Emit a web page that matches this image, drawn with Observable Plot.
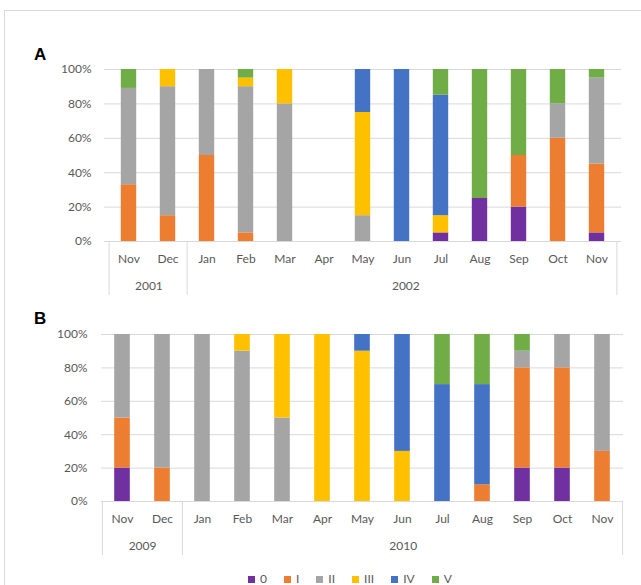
<!DOCTYPE html>
<html><head><meta charset="utf-8">
<script src="https://cdn.jsdelivr.net/npm/d3@7"></script>
<script src="https://cdn.jsdelivr.net/npm/@observablehq/plot@0.6"></script>
<style>
body{margin:0;background:#fff;overflow:hidden}
#wrap{position:relative;width:641px;height:585px;overflow:hidden;background:#fff}
.panel{position:absolute;left:0}
#frame{position:absolute;left:4px;top:10px;width:660px;height:620px;border:1px solid #d9d9d9;box-sizing:border-box;pointer-events:none}
.lab{position:absolute;left:34px;font:bold 17px "Liberation Sans",Arial,sans-serif;line-height:1;color:#000}
#legend{position:absolute;left:248px;top:573px;display:flex;align-items:center;font:12px Lato,"Liberation Sans",sans-serif;color:#595959;line-height:1}
#legend .it{display:flex;align-items:center;margin-right:17px}
#legend .sw{width:7px;height:7px;margin-right:5px}
</style>
</head><body>
<div id="wrap"></div>
<script>
const seriesNames = ["0", "I", "II", "III", "IV", "V"];
const colors = ["#7030A0", "#ED7D31", "#A5A5A5", "#FFC000", "#4472C4", "#70AD47"];

// Panel A categories (month + year)
const catsA = ["Nov 2001","Dec 2001","Jan 2002","Feb 2002","Mar 2002","Apr 2002","May 2002","Jun 2002","Jul 2002","Aug 2002","Sep 2002","Oct 2002","Nov 2002"];
// Panel A values (%)
const a0   = [0, 0, 0, 0, 0, 0, 0, 0, 5, 25, 20, 0, 5];
const aI   = [33, 15, 50, 5, 0, 0, 0, 0, 0, 0, 30, 60, 40];
const aII  = [56, 75, 50, 85, 80, 0, 15, 0, 0, 0, 0, 20, 50];
const aIII = [0, 10, 0, 5, 20, 0, 60, 0, 10, 0, 0, 0, 0];
const aIV  = [0, 0, 0, 0, 0, 0, 25, 100, 70, 0, 0, 0, 0];
const aV   = [11, 0, 0, 5, 0, 0, 0, 0, 15, 75, 50, 20, 5];

// Panel B categories
const catsB = ["Nov 2009","Dec 2009","Jan 2010","Feb 2010","Mar 2010","Apr 2010","May 2010","Jun 2010","Jul 2010","Aug 2010","Sep 2010","Oct 2010","Nov 2010"];
const b0   = [20, 0, 0, 0, 0, 0, 0, 0, 0, 0, 20, 20, 0];
const bI   = [30, 20, 0, 0, 0, 0, 0, 0, 0, 10, 60, 60, 30];
const bII  = [50, 80, 100, 90, 50, 0, 0, 0, 0, 0, 10, 20, 70];
const bIII = [0, 0, 0, 10, 50, 100, 90, 30, 0, 0, 0, 0, 0];
const bIV  = [0, 0, 0, 0, 0, 0, 10, 70, 70, 60, 0, 0, 0];
const bV   = [0, 0, 0, 0, 0, 0, 0, 0, 30, 30, 10, 0, 0];

const yTicks = [0, 0.2, 0.4, 0.6, 0.8, 1];
const gridColor = "#d9d9d9";
const textColor = "#595959";

function panel(cats, series, o) {
  const data = [];
  seriesNames.forEach((s, k) => series[k].forEach((v, i) => { if (v > 0) data.push({cat: cats[i], s, v: v / 100}); }));
  const width = 641;
  const bw = (width - o.ml - o.mr) / cats.length;
  const plotH = o.height - o.mt - o.mb;
  const yLow = -54 / plotH;
  const years = [...new Set(cats.map(c => c.split(" ")[1]))];
  const groups = years.map(y => {
    const idx = cats.map((c, i) => [c, i]).filter(([c]) => c.endsWith(y)).map(([, i]) => i);
    return {year: y, start: idx[0], end: idx[idx.length - 1]};
  });
  return Plot.plot({
    width, height: o.height,
    marginTop: o.mt, marginBottom: o.mb, marginLeft: o.ml, marginRight: o.mr,
    style: {fontFamily: "Lato, 'Liberation Sans', sans-serif", fontSize: "12px", color: textColor, background: "none", overflow: "visible"},
    x: {domain: cats, padding: 0},
    y: {domain: [0, 1]},
    color: {domain: seriesNames, range: colors},
    marks: [
      Plot.gridY(yTicks, {stroke: gridColor, strokeOpacity: 1}),
      Plot.barY(data, {x: "cat", y: "v", fill: "s", order: seriesNames, insetLeft: o.inset, insetRight: o.inset}),
      Plot.ruleY([0], {stroke: gridColor}),
      Plot.ruleX(groups, {x: d => cats[d.start], dx: -bw / 2, y1: 0, y2: yLow, stroke: gridColor}),
      Plot.ruleX([cats[cats.length - 1]], {dx: bw / 2, y1: 0, y2: yLow, stroke: gridColor}),
      ...groups.map(g => Plot.text([g], {x: d => cats[d.start], dx: (g.end - g.start) * bw / 2, y: 0, dy: 40, text: "year", lineAnchor: "top", fill: textColor, fontSize: 12})),
      Plot.axisX({tickSize: 0, tickPadding: 13, tickFormat: d => d.split(" ")[0], label: null, fill: textColor}),
      Plot.axisY(yTicks, {tickSize: 0, tickPadding: o.tp, tickFormat: d3.format(".0%"), label: null, fill: textColor})
    ]
  });
}

const wrap = document.getElementById("wrap");

const pa = panel(catsA, [a0, aI, aII, aIII, aIV, aV], {height: 300, mt: 69, mb: 59, ml: 104, mr: 20, inset: 11.8, tp: 13});
pa.classList.add("panel"); pa.style.top = "0px";
wrap.appendChild(pa);

const pb = panel(catsB, [b0, bI, bII, bIII, bIV, bV], {height: 260, mt: 34, mb: 59, ml: 101, mr: 18, inset: 12.2, tp: 14});
pb.classList.add("panel"); pb.style.top = "300px";
wrap.appendChild(pb);

const la = document.createElement("div"); la.className = "lab"; la.style.top = "46px"; la.textContent = "A"; wrap.appendChild(la);
const lb = document.createElement("div"); lb.className = "lab"; lb.style.top = "310px"; lb.textContent = "B"; wrap.appendChild(lb);

const legend = document.createElement("div"); legend.id = "legend";
seriesNames.forEach((s, i) => {
  const it = document.createElement("div"); it.className = "it";
  const sw = document.createElement("span"); sw.className = "sw"; sw.style.background = colors[i];
  const t = document.createElement("span"); t.textContent = s;
  it.appendChild(sw); it.appendChild(t); legend.appendChild(it);
});
wrap.appendChild(legend);

const frame = document.createElement("div"); frame.id = "frame"; wrap.appendChild(frame);
</script>
</body></html>
